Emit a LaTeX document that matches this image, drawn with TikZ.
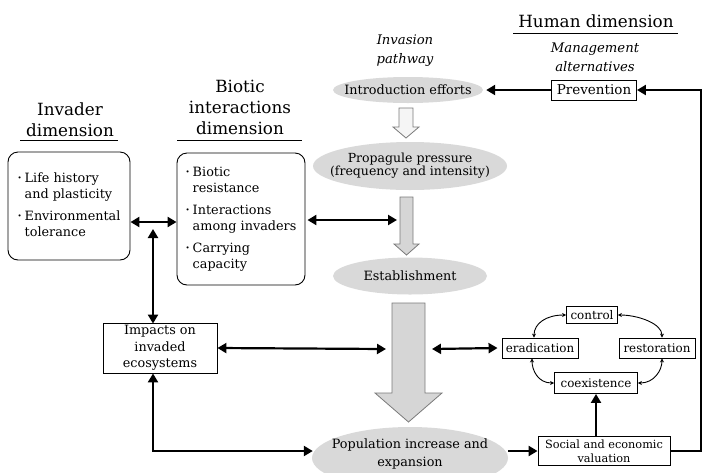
\documentclass[tikz,border=0pt]{standalone}
\usepackage{fontspec}
\setmainfont{DejaVu Serif}
\usetikzlibrary{arrows.meta,shapes.geometric,calc}
\definecolor{ellgray}{HTML}{D9D9D9}
\definecolor{arrgray}{HTML}{D6D6D6}
\definecolor{arrline}{HTML}{7A7A7A}
\newcommand{\bul}{\raisebox{0.25ex}{\scriptsize •}}
\begin{document}
\begin{tikzpicture}[x=1pt,y=-1pt,
  title/.style={align=center,inner sep=0pt,font=\fontsize{16.8}{21}\selectfont},
  ital/.style={align=center,inner sep=0pt,font=\fontsize{13.2}{19}\selectfont\itshape},
  ell/.style={ellipse,fill=ellgray,draw=none,inner sep=0pt},
  elltext/.style={align=center,inner sep=0pt,font=\fontsize{12.8}{14}\selectfont},
  box/.style={draw,line width=0.9pt,inner sep=0pt,align=center,font=\fontsize{12.8}{16.5}\selectfont},
  cbox/.style={box,font=\fontsize{11.9}{14}\selectfont},
  rbox/.style={draw,line width=0.9pt,rounded corners=10pt,inner sep=0pt,align=left,font=\fontsize{12.8}{16}\selectfont},
  arr/.style={line width=2.2pt,-{Triangle[length=9pt,width=10pt]}},
  arrtwo/.style={line width=2.2pt,{Triangle[length=9pt,width=10pt]}-{Triangle[length=9pt,width=10pt]}},
  cyc/.style={line width=0.9pt,{Stealth[length=4pt,width=4pt]}-{Stealth[length=4pt,width=4pt]}},
  garr/.style={draw=arrline,line width=0.8pt,line join=miter},
  uline/.style={line width=1pt}]
\useasboundingbox (0,0) rectangle (703,472);

% titles
\node[title] (invT) at (70,120) {Invader\\dimension};
\node[title] (bioT) at (240,107) {Biotic\\interactions\\dimension};
\node[title] (humT) at (596,21) {Human dimension};
\node[ital] (pathT) at (405,51) {Invasion\\pathway};
\node[ital] (mgmtT) at (595,57) {Management\\alternatives};
\draw[uline] (20,140) -- (118,140);
\draw[uline] (177,140) -- (302,140);
\draw[uline] (513,33) -- (678,33);

% pathway ellipses
\node[ell,minimum width=150pt,minimum height=26pt] (intro) at (408,90) {};
\node[elltext] (introT) at (intro) {Introduction efforts};
\node[ell,minimum width=194pt,minimum height=48pt] (prop) at (410,166) {};
\node[elltext,font=\fontsize{12.5}{13}\selectfont] (propT) at (prop) {Propagule pressure\\(frequency and intensity)};
\node[ell,minimum width=154pt,minimum height=37pt] (est) at (410,276) {};
\node[elltext] (estT) at (est) {Establishment};
\node[ell,minimum width=196pt,minimum height=62pt] (pop) at (410,458) {};
\node[elltext,font=\fontsize{12.8}{18.5}\selectfont] (popT) at (410,454) {Population increase and\\expansion};

% gray arrows
\draw[garr,fill=white!92!gray] (399,108) -- (413,108) -- (413,127) -- (419,127) -- (406,138) -- (393,127) -- (399,127) -- cycle;
\draw[garr,fill=arrgray] (400,197) -- (413,197) -- (413,244) -- (419,244) -- (406.5,255) -- (394,244) -- (400,244) -- cycle;
\draw[garr,fill=arrgray] (392,303) -- (425,303) -- (425,393) -- (442,393) -- (408.5,422) -- (375,393) -- (392,393) -- cycle;
\coordinate (atwoW) at (400,220);
\coordinate (bigW) at (392,349);
\coordinate (bigE) at (425,349);

% left boxes
\node[rbox,minimum width=122pt,minimum height=108pt] (inv) at (69,206) {%
  \begin{tabular}{@{}l@{\hspace{3pt}}l@{}}
  \bul & Life history\\ & and plasticity\\[6pt]
  \bul & Environmental\\ & tolerance
  \end{tabular}};
\node[rbox,minimum width=128pt,minimum height=132pt] (bio) at (241,219) {%
  \begin{tabular}{@{}l@{\hspace{3pt}}l@{}}
  \bul & Biotic\\ & resistance\\[6pt]
  \bul & Interactions\\ & among invaders\\[6pt]
  \bul & Carrying\\ & capacity
  \end{tabular}};
\node[box,minimum width=114pt,minimum height=50pt] (imp) at (160,348) {Impacts on\\invaded\\ecosystems};

% management boxes
\node[box,minimum width=85pt,minimum height=20pt,font=\fontsize{13.5}{16}\selectfont] (prev) at (594,90) {Prevention};
\node[box,minimum width=132pt,minimum height=29pt,font=\fontsize{11.3}{14}\selectfont] (soc) at (604,451) {Social and economic\\valuation};
\node[cbox,minimum width=51pt,minimum height=17pt] (ctrl) at (592,315) {control};
\node[cbox,minimum width=76pt,minimum height=20pt] (erad) at (540,348) {eradication};
\node[cbox,minimum width=76pt,minimum height=20pt] (rest) at (657,348) {restoration};
\node[cbox,minimum width=83pt,minimum height=21pt] (coex) at (596,383) {coexistence};

\coordinate (col) at (153,222);
\coordinate (colTop) at (153,229);
\coordinate (rc) at (701,451);

% connectors
\draw[arr] (prev.west) -- ([xshift=3pt]intro.east);
\draw[arr] (soc.east) -- (rc) |- (prev.east);
\draw[arr] (soc.north -| coex.south) -- (coex.south);
\draw[arr] (soc.west -| pop.east) -- (soc.west);
\draw[arrtwo] (imp.south -| col) |- ([xshift=1pt]soc.west -| pop.west);
\draw[arrtwo] (inv.east |- col) -- (bio.west |- col);
\draw[arrtwo] (colTop) -- ([yshift=-1pt]imp.north -| colTop);
\draw[arrtwo] ([xshift=2pt]bio.east |- atwoW) -- ([xshift=-3pt]atwoW);
\draw[arrtwo] (imp.east) -- ([xshift=-6pt]bigW);
\draw[arrtwo] ([xshift=7pt]bigE) -- ([xshift=-4pt]erad.west);

% cycle
\draw[cyc] (ctrl.west) .. controls +(-20,0) and +(0,-14) .. ([xshift=-6pt]erad.north);
\draw[cyc] (ctrl.east) .. controls +(20,0) and +(0,-14) .. ([xshift=5pt]rest.north);
\draw[cyc] ([xshift=-8pt]erad.south) .. controls +(0,12) and +(-16,0) .. (coex.west);
\draw[cyc] ([xshift=5pt]rest.south) .. controls +(0,12) and +(16,0) .. (coex.east);
\end{tikzpicture}
\end{document}
